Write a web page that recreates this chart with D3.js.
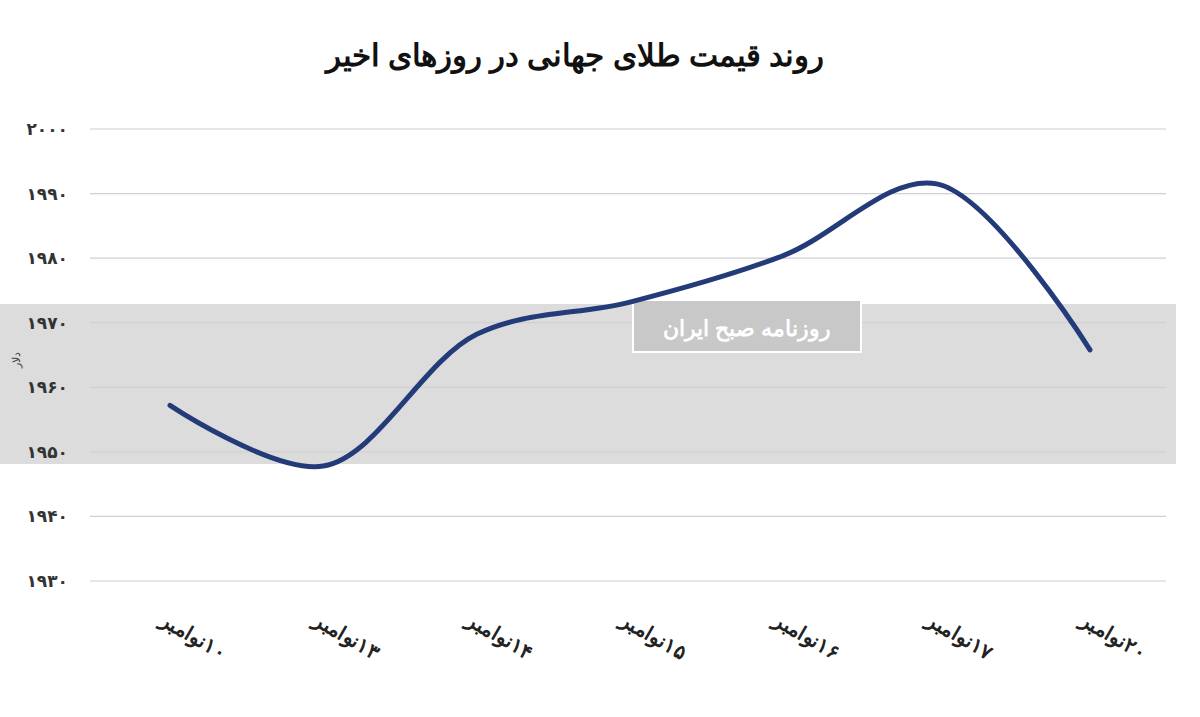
<!DOCTYPE html>
<html><head><meta charset="utf-8">
<script src="https://cdn.jsdelivr.net/npm/d3@7/dist/d3.min.js"></script>
<style>body{margin:0;background:#fff}svg{display:block}</style>
</head><body>
<script>
const categories=["۱۰نوامبر","۱۳نوامبر","۱۴نوامبر","۱۵نوامبر","۱۶نوامبر","۱۷نوامبر","۲۰نوامبر"];
const values=[1957.2,1947.8,1968.2,1973.2,1980.4,1991.5,1965.8];
const yTicks=[1930,1940,1950,1960,1970,1980,1990,2000];
const fa=n=>String(n).replace(/\d/g,d=>"۰۱۲۳۴۵۶۷۸۹"[d]);
const W=1200,H=717;
const svg=d3.select("body").append("svg").attr("width",W).attr("height",H);
const x=d3.scalePoint().domain(categories).range([170,1090]);
const y=d3.scaleLinear().domain([1930,2000]).range([581,129]);
svg.append("rect").attr("x",0).attr("width",1176).attr("y",304).attr("height",160).attr("fill","#dcdcdc");
const g=svg.append("g");
yTicks.forEach(t=>{
 g.append("line").attr("x1",90).attr("x2",1166).attr("y1",y(t)).attr("y2",y(t)).attr("stroke","#d0d0d0").attr("stroke-width",1.2);
 g.append("text").attr("x",68).attr("y",y(t)+6).attr("text-anchor","end").attr("font-family","Noto Sans, DejaVu Sans").attr("font-weight","bold").attr("font-size",17).attr("fill","#333").text(fa(t));
});
svg.append("text").attr("transform","translate(20,360) rotate(-90)").attr("text-anchor","middle").attr("font-family","Noto Sans").attr("font-size",11).attr("fill","#444").text("دلار");
const lb=svg.append("g");
lb.append("rect").attr("x",633).attr("y",300).attr("width",228).attr("height",52).attr("fill","#c8c8c8").attr("stroke","#fff").attr("stroke-width",2);
lb.append("text").attr("x",747).attr("y",336).attr("text-anchor","middle").attr("font-family","Noto Sans").attr("font-weight","bold").attr("font-size",22).attr("fill","#fff").text("روزنامه صبح ایران");
svg.append("path").datum(values).attr("fill","none").attr("stroke","#233b78").attr("stroke-width",5).attr("stroke-linecap","round")
 .attr("d",d3.line().x((d,i)=>x(categories[i])).y(d=>y(d)).curve(d3.curveCatmullRom.alpha(0.5)));
categories.forEach(c=>{
 svg.append("text").attr("transform",`translate(${x(c)+20},${642}) rotate(30)`).attr("direction","rtl").attr("text-anchor","middle").attr("font-family","Noto Sans").attr("font-weight","bold").attr("font-size",20).attr("fill","#222").text(c);
});
svg.append("text").attr("x",575).attr("y",66).attr("text-anchor","middle").attr("font-family","Noto Sans").attr("font-weight","bold").attr("font-size",31).attr("fill","#111").text("روند قیمت طلای جهانی در روزهای  اخیر");
</script>
</body></html>
